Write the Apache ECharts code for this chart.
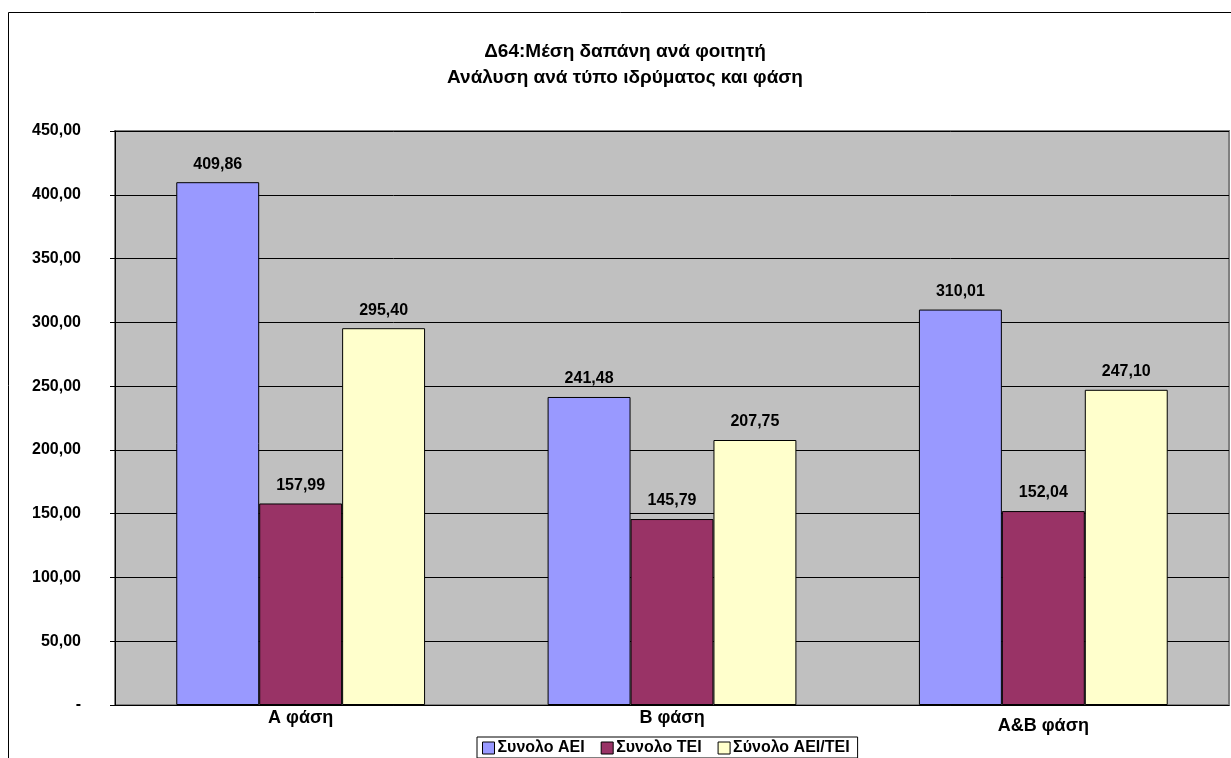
<!DOCTYPE html>
<html>
<head>
<meta charset="utf-8">
<script src="https://cdn.jsdelivr.net/npm/echarts@6/dist/echarts.min.js"></script>
<style>
  html, body { margin:0; padding:0; background:#fff; }
  #chart { width:1231px; height:758px; }
</style>
</head>
<body>
<div id="chart"></div>
<script>
var categories = ['Α φάση', 'Β φάση', 'Α&Β φάση'];
var seriesNames = ['Συνολο ΑΕΙ', 'Συνολο ΤΕΙ', 'Σύνολο ΑΕΙ/ΤΕΙ'];
var aeiValues = [409.86, 241.48, 310.01];
var teiValues = [157.99, 145.79, 152.04];
var totalValues = [295.40, 207.75, 247.10];
var colors = ['#9999ff', '#993366', '#ffffcc'];

function fmt(v) {
  if (v === 0) return '-';
  return v.toFixed(2).replace('.', ',');
}

var chart = echarts.init(document.getElementById('chart'));
var font = 'Liberation Sans, Arial, sans-serif';

function makeSeries(name, data, color) {
  return {
    name: name,
    type: 'bar',
    data: data,
    barGap: 0,
    barCategoryGap: '33%',
    itemStyle: { color: color, borderColor: '#000', borderWidth: 1 },
    label: {
      show: true,
      position: 'top',
      distance: 10,
      color: '#000',
      fontWeight: 'bold',
      fontSize: 16,
      fontFamily: font,
      formatter: function (p) { return fmt(p.value); }
    }
  };
}

var option = {
  backgroundColor: '#fff',
  animation: false,
  title: {
    text: 'Δ64:Μέση δαπάνη ανά φοιτητή\nΑνάλυση ανά τύπο ιδρύματος και φάση',
    left: 620,
    textAlign: 'center',
    top: 34,
    textStyle: { fontSize: 19, fontWeight: 'bold', fontFamily: font, color: '#000', lineHeight: 26 }
  },
  graphic: [{
    type: 'rect',
    shape: { x: 8.5, y: 12.5, width: 1240, height: 760 },
    style: { fill: 'none', stroke: '#000', lineWidth: 1 },
    silent: true,
    z: -1
  }],
  legend: {
    data: seriesNames,
    bottom: 0,
    left: 477,
    itemGap: 16,
    itemWidth: 12,
    itemHeight: 12,
    padding: [3, 8, 2, 5],
    borderColor: '#000',
    borderWidth: 1,
    icon: 'rect',
    textStyle: { fontSize: 16, fontWeight: 'bold', fontFamily: font, color: '#000', padding: [0, 0, 0, -2] },
    itemStyle: { borderColor: '#000', borderWidth: 1 }
  },
  grid: {
    left: 115,
    right: 2,
    top: 131,
    bottom: 53,
    show: true,
    backgroundColor: '#c0c0c0',
    borderColor: '#808080',
    borderWidth: 2
  },
  xAxis: {
    type: 'category',
    data: categories,
    axisLine: { lineStyle: { color: '#000', width: 1 } },
    axisTick: { show: false },
    axisLabel: {
      color: '#000',
      fontWeight: 'bold',
      fontSize: 18,
      fontFamily: font,
      margin: 4,
      formatter: function (v, i) { return i === 2 ? '{low|' + v + '}' : v; },
      rich: {
        low: { fontSize: 18, fontWeight: 'bold', fontFamily: font, color: '#000', padding: [8, 0, 0, 0] }
      }
    }
  },
  yAxis: {
    type: 'value',
    min: 0,
    max: 450,
    interval: 50,
    axisLine: { show: true, lineStyle: { color: '#000', width: 1 } },
    axisTick: { show: true, length: 5, lineStyle: { color: '#000' } },
    splitLine: { show: true, lineStyle: { color: '#000', width: 1 } },
    axisLabel: {
      color: '#000',
      fontWeight: 'bold',
      fontSize: 16,
      fontFamily: font,
      margin: 34,
      formatter: function (v) { return fmt(v); }
    }
  },
  series: [
    makeSeries(seriesNames[0], aeiValues, colors[0]),
    makeSeries(seriesNames[1], teiValues, colors[1]),
    makeSeries(seriesNames[2], totalValues, colors[2])
  ]
};
chart.setOption(option);
</script>
</body>
</html>
